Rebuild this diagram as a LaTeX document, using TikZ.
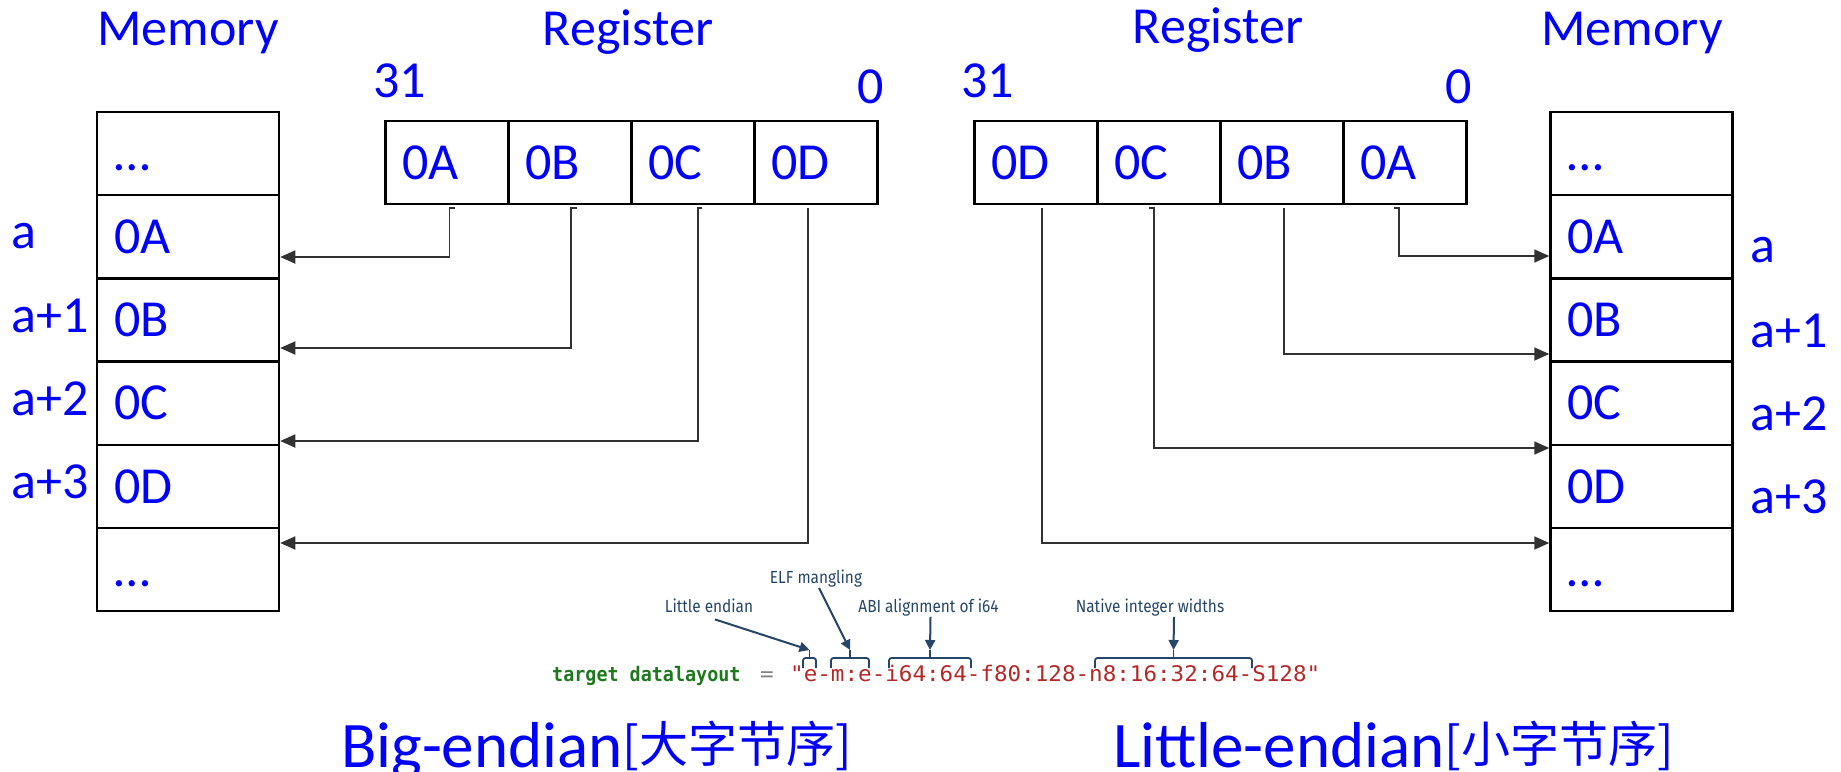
\documentclass[tikz,border=0pt]{standalone}
\usepackage{fontspec}
\setmainfont{Carlito}
\newfontfamily\cjk{Noto Sans CJK SC}
\newfontfamily\codefont[FakeStretch=1.05]{DejaVu Sans Mono}
\newfontfamily\codefontg[FakeStretch=0.92]{DejaVu Sans Mono}
\newfontfamily\notefont[FakeStretch=0.88]{Fira Sans}
\usetikzlibrary{arrows.meta}
\definecolor{txtblue}{RGB}{0,0,255}
\definecolor{notecol}{RGB}{38,70,105}
\definecolor{codegreen}{RGB}{30,120,30}
\definecolor{codered}{RGB}{180,40,40}
\definecolor{conncol}{RGB}{50,50,50}
\begin{document}
\begin{tikzpicture}[x=1pt,y=-1pt,
  big/.style={font=\fontsize{52}{52}\selectfont, text=txtblue, inner sep=0pt},
  cellbase/.style={draw=black, line width=2.5pt, text=txtblue, font=\fontsize{52}{52}\selectfont,
    minimum height=83.2pt, text height=33.5pt, text depth=0pt, inner xsep=17pt, align=left},
  regcell/.style={cellbase, minimum width=123pt, text width=89pt},
  memcell/.style={cellbase, minimum width=182pt, text width=148pt},
  conn/.style={draw=conncol, line width=1.8pt, -{Triangle[length=15pt,width=13pt]}},
  notetext/.style={font=\notefont\fontsize{17.5}{17.5}\selectfont, text=notecol, inner sep=0pt},
  notearrow/.style={draw=notecol, line width=2pt, -{Triangle[length=10pt,width=10pt]}},
  notebrace/.style={draw=notecol, line width=1.8pt, rounded corners=2.5pt},
  title/.style={text=txtblue, inner sep=0pt, anchor=base west, font=\fontsize{65}{65}\selectfont}
]
\useasboundingbox (0,0) rectangle (1841,771);

% ---------- left: big-endian ----------
\node[big, anchor=base] (memTitleL) at (188,45) {Memory};
\node[big, anchor=base] (regTitleL) at (628,45) {Register};
\node[big, anchor=base west] (b31L) at (373,97) {31};
\node[big, anchor=base west] (b0L) at (857,103) {0};

\node[regcell] (rL1) at (447,162.5) {0A};
\node[regcell] (rL2) at (570,162.5) {0B};
\node[regcell] (rL3) at (693,162.5) {0C};
\node[regcell] (rL4) at (816,162.5) {0D};

\node[memcell] (mL0) at (188,153.6) {…};
\node[memcell] (mL1) at (188,236.8) {0A};
\node[memcell] (mL2) at (188,320.0) {0B};
\node[memcell] (mL3) at (188,403.2) {0C};
\node[memcell] (mL4) at (188,486.4) {0D};
\node[memcell] (mL5) at (188,569.6) {…};

\node[big, anchor=base west] (aL0) at (11,248) {a};
\node[big, anchor=base west] (aL1) at (11,332) {a+1};
\node[big, anchor=base west] (aL2) at (11,415) {a+2};
\node[big, anchor=base west] (aL3) at (11,498) {a+3};

\draw[conn] ([xshift=8pt,yshift=-3pt]rL1.south) -- ([xshift=2.5pt,yshift=-3pt]rL1.south) |- ([yshift=-20.2pt]mL1.east);
\draw[conn] ([xshift=7pt,yshift=-3pt]rL2.south) -- ([xshift=1pt,yshift=-3pt]rL2.south) |- ([yshift=-28pt]mL2.east);
\draw[conn] ([xshift=9pt,yshift=-3pt]rL3.south) -- ([xshift=5pt,yshift=-3pt]rL3.south) |- ([yshift=-37.8pt]mL3.east);
\draw[conn] ([xshift=-8pt,yshift=-3pt]rL4.south) |- ([yshift=26.6pt]mL5.east);

% ---------- right: little-endian ----------
\node[big, anchor=base] (regTitleR) at (1218,43) {Register};
\node[big, anchor=base] (memTitleR) at (1632,45) {Memory};
\node[big, anchor=base west] (b31R) at (961,97) {31};
\node[big, anchor=base west] (b0R) at (1445,103) {0};

\node[regcell] (rR1) at (1036,162.5) {0D};
\node[regcell] (rR2) at (1159,162.5) {0C};
\node[regcell] (rR3) at (1282,162.5) {0B};
\node[regcell] (rR4) at (1405,162.5) {0A};

\node[memcell] (mR0) at (1641.5,153.6) {…};
\node[memcell] (mR1) at (1641.5,236.8) {0A};
\node[memcell] (mR2) at (1641.5,320.0) {0B};
\node[memcell] (mR3) at (1641.5,403.2) {0C};
\node[memcell] (mR4) at (1641.5,486.4) {0D};
\node[memcell] (mR5) at (1641.5,569.6) {…};

\node[big, anchor=base west] (aR0) at (1750,262) {a};
\node[big, anchor=base west] (aR1) at (1750,347) {a+1};
\node[big, anchor=base west] (aR2) at (1750,430) {a+2};
\node[big, anchor=base west] (aR3) at (1750,513) {a+3};

\draw[conn] ([xshift=6pt,yshift=-3pt]rR1.south) |- ([yshift=26.6pt]mR5.west);
\draw[conn] ([xshift=-10pt,yshift=-3pt]rR2.south) -- ([xshift=-5pt,yshift=-3pt]rR2.south) |- ([yshift=38.4pt]mR4.west);
\draw[conn] ([xshift=2pt,yshift=-3pt]rR3.south) |- ([yshift=-34pt]mR2.west);
\draw[conn] ([xshift=-11pt,yshift=-3pt]rR4.south) -- ([xshift=-6pt,yshift=-3pt]rR4.south) |- ([yshift=-19.2pt]mR1.west);

% ---------- datalayout snippet ----------
\node[notetext, anchor=base] (nELF) at (816,583) {ELF mangling};
\node[notetext, anchor=base] (nLE) at (709,612) {Little endian};
\node[notetext, anchor=base] (nABI) at (928.5,612) {ABI alignment of i64};
\node[notetext, anchor=base] (nNat) at (1150,612) {Native integer widths};

\coordinate (bLE) at (809.5,650);
\coordinate (bME) at (850,650);
\coordinate (bABI) at (930,650);
\coordinate (bNat) at (1173.5,650);

\draw[notebrace] (803,668) -- (803,658) -- (816,658) -- (816,668);
\draw[notebrace] (831,668) -- (831,658) -- (869,658) -- (869,668);
\draw[notebrace] (889,668) -- (889,658) -- (971,658) -- (971,668);
\draw[notebrace] (1095,668) -- (1095,658) -- (1252,658) -- (1252,668);
\draw[notecol, line width=1.8pt] (809.5,658) -- (bLE) (850,658) -- (bME) (930,658) -- (bABI) (1173.5,658) -- (bNat);

\draw[notearrow] ([xshift=6pt,yshift=-7pt]nLE.south) -- (bLE);
\draw[notearrow] ([xshift=3pt,yshift=-1pt]nELF.south) -- (bME);
\draw[notearrow] ([xshift=2pt,yshift=-1pt]nABI.south) -- (bABI);
\draw[notearrow] ([xshift=24pt,yshift=-1pt]nNat.south) -- (bNat);

\node[anchor=base west, inner sep=0pt, text=codegreen, font=\codefontg\bfseries\fontsize{20}{22}\selectfont] (codeKey) at (552,681)
  {target datalayout};
\node[anchor=base, inner sep=0pt, text=gray, font=\codefont\fontsize{21.5}{22}\selectfont] (codeEq) at (767,681) {=};
\node[anchor=base west, inner sep=0pt, text=codered, font=\codefont\fontsize{21.5}{22}\selectfont] (codeVal) at (790,681)
  {"e-m:e-i64:64-f80:128-n8:16:32:64-S128"};

% ---------- titles ----------
\node[title] (tBig) at (341,767) {Big-endian{\cjk\fontsize{49}{49}\selectfont\raisebox{5pt}{[大字节序]}}};
\node[title] (tLittle) at (1113,767) {Little-endian{\cjk\fontsize{49}{49}\selectfont\raisebox{5pt}{[小字节序]}}};
\end{tikzpicture}
\end{document}
